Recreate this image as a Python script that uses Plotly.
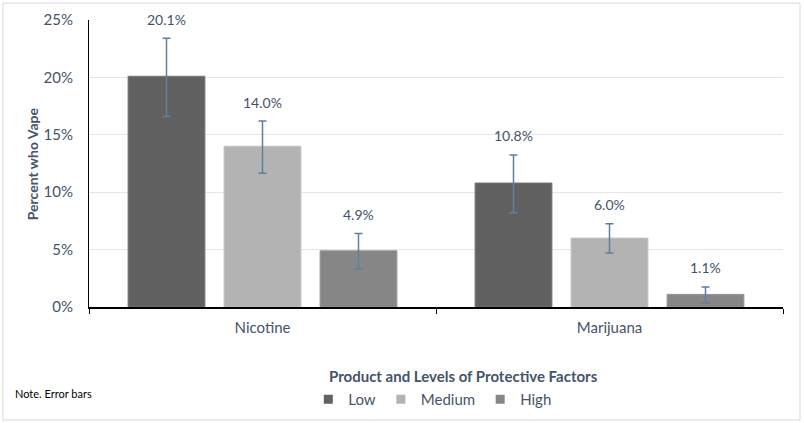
import plotly.graph_objects as go

categories = ["Nicotine", "Marijuana"]
levels = ["Low", "Medium", "High"]
values = {
    "Low": [20.1, 10.8],
    "Medium": [14.0, 6.0],
    "High": [4.9, 1.1],
}
err_plus = {
    "Low": [3.3, 2.45],
    "Medium": [2.2, 1.25],
    "High": [1.5, 0.65],
}
err_minus = {
    "Low": [3.5, 2.6],
    "Medium": [2.35, 1.3],
    "High": [1.6, 0.75],
}
y_ticks = [0, 5, 10, 15, 20, 25]
y_tick_labels = ["0%", "5%", "10%", "15%", "20%", "25%"]

colors = {"Low": "#616161", "Medium": "#b3b3b3", "High": "#868686"}
line_colors = {"Low": "#777777", "Medium": "#c2c2c2", "High": "#979797"}
text_color = "#44546a"
err_color = "#5f7fa0"
FONT = "Lato"

fig = go.Figure()
for lv in levels:
    fig.add_trace(go.Bar(
        x=categories, y=values[lv], name=lv, showlegend=False,
        marker=dict(color=colors[lv], line=dict(color=line_colors[lv], width=1)),
        error_y=dict(type="data", array=err_plus[lv], arrayminus=err_minus[lv],
                     color=err_color, thickness=1.5, width=4, visible=True),
    ))
# legend entries with small square swatches
for lv in levels:
    fig.add_trace(go.Scatter(
        x=[None], y=[None], mode="markers", name=lv, showlegend=True,
        marker=dict(symbol="square", size=9, color=colors[lv]),
    ))

shifts = {"Low": -96, "Medium": 0, "High": 96}
for lv in levels:
    for i, c in enumerate(categories):
        top = values[lv][i] + err_plus[lv][i]
        fig.add_annotation(x=c, y=top, xref="x", yref="y", text=f"{values[lv][i]:.1f}%",
                           showarrow=False, xshift=shifts[lv], yshift=19,
                           font=dict(family=FONT, size=14, color=text_color))

fig.add_annotation(x=-0.081, y=0.5, xref="paper", yref="paper", textangle=-90,
                   text="<b>Percent who Vape</b>", showarrow=False,
                   xanchor="center", yanchor="middle",
                   font=dict(family=FONT, size=14, color=text_color))
fig.add_annotation(x=0.54, y=-0.242, xref="paper", yref="paper",
                   text="<b>Product and Levels of Protective Factors</b>", showarrow=False,
                   xanchor="center", yanchor="middle",
                   font=dict(family=FONT, size=15, color=text_color))
fig.add_annotation(x=-0.109, y=-0.3, xref="paper", yref="paper",
                   text="Note. Error bars", showarrow=False, xanchor="left", yanchor="middle",
                   font=dict(family=FONT, size=11, color="#000000"))

fig.add_shape(type="rect", xref="paper", yref="paper", x0=-0.124, x1=1.0245, y0=-0.394, y1=1.059,
              line=dict(color="#d9d9d9", width=1), fillcolor="rgba(0,0,0,0)", layer="below")

fig.update_layout(
    width=804, height=423,
    margin=dict(l=89, r=21, t=20, b=116, autoexpand=False),
    paper_bgcolor="white", plot_bgcolor="white",
    barmode="group", bargap=0.17, bargroupgap=0.2,
    font=dict(family=FONT, size=14, color=text_color),
    showlegend=True,
    legend=dict(orientation="h", x=0.316, y=-0.322, xanchor="left", yanchor="middle",
                font=dict(family=FONT, size=15, color=text_color), traceorder="normal",
                itemwidth=30, bgcolor="rgba(0,0,0,0)"),
    yaxis=dict(range=[0, 25], tickvals=y_ticks, ticktext=y_tick_labels,
               showgrid=True, gridcolor="#e2e5ea", gridwidth=1,
               showline=True, linecolor="#000000", linewidth=1, zeroline=False,
               automargin=False, ticklabelstandoff=12,
               tickfont=dict(family=FONT, size=15, color=text_color), ticks=""),
    xaxis=dict(showline=True, linecolor="#000000", linewidth=1.5, ticks="outside", ticklen=5,
               tickcolor="#000000", tickson="boundaries", automargin=False, ticklabelstandoff=6,
               tickfont=dict(family=FONT, size=15, color=text_color)),
)

fig.write_html("out.html", config={"displayModeBar": False},
               post_script="document.body.style.margin='0px';")
